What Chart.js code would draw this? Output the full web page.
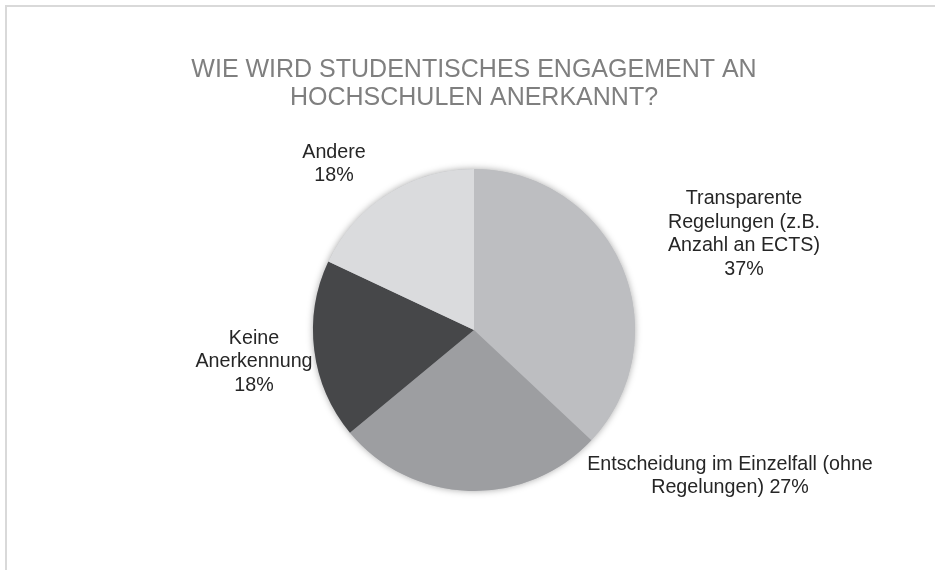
<!DOCTYPE html>
<html>
<head>
<meta charset="utf-8">
<script src="https://cdn.jsdelivr.net/npm/chart.js@4.4.1/dist/chart.umd.min.js"></script>
<style>
    html, body { margin: 0; padding: 0; background: #fff; overflow: hidden; }
    #wrap { position: relative; width: 935px; height: 570px; }
    #frame { position: absolute; left: 5px; top: 5px; width: 1000px; height: 700px; border: 2px solid #d9d9d9; box-sizing: border-box; }
    #chart { position: absolute; left: 0; top: 0; }
</style>
</head>
<body>
<div id="wrap">
    <div id="frame"></div>
    <canvas id="chart" width="935" height="570"></canvas>
</div>
<script>
const titleLines = ['WIE WIRD STUDENTISCHES ENGAGEMENT AN', 'HOCHSCHULEN ANERKANNT?']
const categories = [
    ['Transparente', 'Regelungen (z.B.', 'Anzahl an ECTS)'],
    ['Entscheidung im Einzelfall (ohne', 'Regelungen)'],
    ['Keine', 'Anerkennung'],
    ['Andere']
]
const shares = [37, 27, 18, 18]
const sliceColors = ['#bdbec1', '#9d9ea1', '#464749', '#dadbdd']

// where each label sits, relative to the pie centre (px)
const labelOffsets = [[270, -96], [256, 146], [-220, 32], [-140, -166]]
// whether the percentage goes on its own line
const pctOwnLine = [true, false, true, true]

const pieShadow = {
    id: 'pieShadow',
    beforeDatasetsDraw(chart) {
        const arc = chart.getDatasetMeta(0).data[0]
        if (!arc) return
        const ctx = chart.ctx
        ctx.save()
        ctx.shadowColor = 'rgba(0,0,0,0.35)'
        ctx.shadowBlur = 7
        ctx.fillStyle = '#bdbec1'
        ctx.beginPath()
        ctx.arc(arc.x, arc.y, arc.outerRadius, 0, Math.PI * 2)
        ctx.fill()
        ctx.restore()
    }
}

const sliceLabels = {
    id: 'sliceLabels',
    afterDatasetsDraw(chart) {
        const ctx = chart.ctx
        const meta = chart.getDatasetMeta(0)
        ctx.save()
        ctx.font = '19.7px "Liberation Sans", Arial, sans-serif'
        ctx.fillStyle = '#262626'
        ctx.textAlign = 'center'
        ctx.textBaseline = 'middle'
        meta.data.forEach((arc, i) => {
            let lines = categories[i].slice()
            const pct = shares[i] + '%'
            if (pctOwnLine[i]) lines.push(pct)
            else lines[lines.length - 1] += ' ' + pct
            const lh = 23.4
            const cx = arc.x + labelOffsets[i][0]
            const cy = arc.y + labelOffsets[i][1]
            const top = cy - (lines.length - 1) * lh / 2
            lines.forEach((t, j) => ctx.fillText(t, cx, top + j * lh))
        })
        ctx.restore()
    }
}

new Chart(document.getElementById('chart'), {
    type: 'pie',
    data: {
        labels: categories.map(c => c.join(' ')),
        datasets: [{
            data: shares,
            backgroundColor: sliceColors,
            borderWidth: 0
        }]
    },
    options: {
        responsive: false,
        animation: false,
        layout: { padding: { left: 13, bottom: 79 } },
        plugins: {
            legend: { display: false },
            tooltip: { enabled: false },
            title: {
                display: true,
                text: titleLines,
                color: '#7f7f7f',
                font: { family: '"Liberation Sans", Arial, sans-serif', size: 25, weight: 'normal', lineHeight: 1.12 },
                padding: { top: 56, bottom: 57 }
            }
        }
    },
    plugins: [pieShadow, sliceLabels]
})
</script>
</body>
</html>
